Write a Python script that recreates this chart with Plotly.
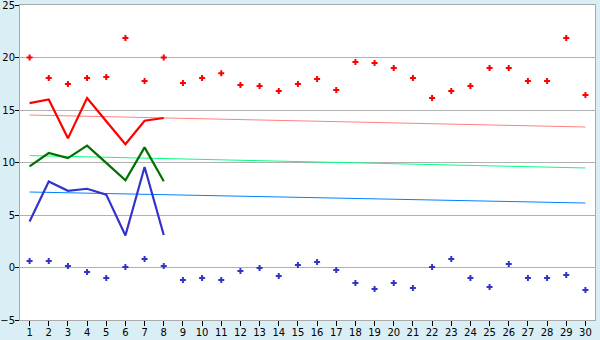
import plotly.graph_objects as go

days = list(range(1, 31))
x_labels = [str(d) for d in days]

upper_pts = [20.0, 18.05, 17.48, 18.05, 18.14, 21.86, 17.76, 20.0, 17.57, 18.05,
             18.5, 17.38, 17.29, 16.81, 17.48, 17.95, 16.9, 19.57, 19.48, 19.0,
             18.05, 16.14, 16.81, 17.29, 19.0, 19.0, 17.76, 17.76, 21.86, 16.43]
lower_pts = [0.62, 0.62, 0.14, -0.43, -1.0, 0.05, 0.81, 0.14, -1.19, -1.0,
             -1.19, -0.33, -0.05, -0.81, 0.24, 0.52, -0.24, -1.48, -2.05, -1.48,
             -1.95, 0.05, 0.81, -1.0, -1.86, 0.33, -1.0, -1.0, -0.71, -2.14]

line_days = [1, 2, 3, 4, 5, 6, 7, 8]
red_line = [15.65, 16.0, 12.3, 16.15, 13.93, 11.74, 13.98, 14.24]
green_line = [9.63, 10.9, 10.42, 11.6, 9.96, 8.3, 11.44, 8.22]
blue_line = [4.39, 8.2, 7.3, 7.5, 6.94, 3.05, 9.57, 3.1]

trend_days = [1, 30]
red_trend = [14.52, 13.38]
green_trend = [10.66, 9.48]
blue_trend = [7.19, 6.14]

fig = go.Figure()

fig.add_trace(go.Scatter(x=trend_days, y=red_trend, mode="lines",
                         line=dict(color="#ff8080", width=1)))
fig.add_trace(go.Scatter(x=trend_days, y=green_trend, mode="lines",
                         line=dict(color="#00ff80", width=1)))
fig.add_trace(go.Scatter(x=trend_days, y=blue_trend, mode="lines",
                         line=dict(color="#0080ff", width=1)))

fig.add_trace(go.Scatter(x=line_days, y=red_line, mode="lines",
                         line=dict(color="#ff0000", width=2.2)))
fig.add_trace(go.Scatter(x=line_days, y=green_line, mode="lines",
                         line=dict(color="#007000", width=2.2)))
fig.add_trace(go.Scatter(x=line_days, y=blue_line, mode="lines",
                         line=dict(color="#3333cc", width=2.2)))

fig.add_trace(go.Scatter(x=days, y=upper_pts, mode="markers",
                         marker=dict(symbol="cross", size=5, color="#ff0000",
                                     line=dict(width=0))))
fig.add_trace(go.Scatter(x=days, y=lower_pts, mode="markers",
                         marker=dict(symbol="cross", size=5, color="#3333cc",
                                     line=dict(width=0))))

fig.update_layout(
    width=600, height=340,
    margin=dict(l=20, r=5, t=5, b=20),
    paper_bgcolor="#daeef5",
    plot_bgcolor="#ffffff",
    showlegend=False,
    hovermode=False,
    font=dict(family="DejaVu Sans", size=10, color="#000000"),
)
fig.update_xaxes(
    range=[0.5, 30.5], automargin=False,
    tickmode="array", tickvals=days, ticktext=x_labels,
    showgrid=False, zeroline=False,
    showline=True, linecolor="#aaaaaa", linewidth=1, mirror=True,
    ticks="outside", ticklen=5, tickcolor="#000000",
    ticklabelstandoff=-2,
    tickfont=dict(size=10),
)
fig.update_yaxes(
    range=[-5, 25], dtick=5, automargin=False,
    ticklabeloverflow="allow",
    showgrid=True, gridcolor="#b0b0b0", gridwidth=1,
    zeroline=False,
    showline=True, linecolor="#aaaaaa", linewidth=1, mirror=True,
    ticks="outside", ticklen=4, tickcolor="#000000",
    ticklabelstandoff=-2,
    tickfont=dict(size=10),
)

fig.write_html("out.html")
